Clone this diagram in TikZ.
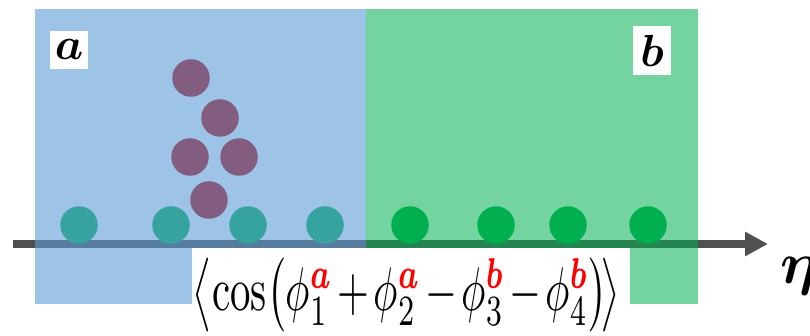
\documentclass[tikz,border=0pt]{standalone}
\usepackage{amsmath,amssymb,bm}
\usepackage{graphicx}
\usepackage{tikz}
\usetikzlibrary{arrows.meta}
\definecolor{regionA}{HTML}{5B9BD5}
\definecolor{regionB}{HTML}{00B050}
\definecolor{dotgreen}{HTML}{00B050}
\definecolor{dotred}{HTML}{C00000}
\definecolor{axisgray}{HTML}{505050}
\tikzset{
  axis/.style={-{Triangle[length=23pt,width=23pt]}, line width=7.5pt, draw=axisgray},
  region/.style={draw=none},
  particle/.style={circle, minimum size=37.5pt, inner sep=0pt, draw=none},
  tag/.style={fill=white, minimum width=38pt, inner sep=0pt},
  blank/.style={fill=white, anchor=north west, minimum width=438pt,
    minimum height=98pt, inner sep=0pt}
}
\newcommand{\sublabel}[1]{\textcolor{red}{\bm{#1}}}

\begin{document}
\begin{tikzpicture}[x=1pt,y=-1pt]
  \useasboundingbox (0,0) rectangle (810,336);

  % pseudorapidity axis
  \coordinate (axL) at (13,244);
  \coordinate (axR) at (768,244);
  \draw[axis] (axL) -- (axR);

  % particles in the two subevents
  \foreach \x [count=\i] in {79,171,248,325,410,496,568,648}
    \node[particle, fill=dotgreen] (p\i) at (\x,225) {};
  \node[particle, fill=dotred] (q1) at (191,78) {};
  \node[particle, fill=dotred] (q2) at (220,118) {};
  \node[particle, fill=dotred] (q3) at (190,157) {};
  \node[particle, fill=dotred] (q4) at (239,157) {};
  \node[particle, fill=dotred] (q5) at (209,200) {};

  % subevent windows
  \fill[regionA, region, fill opacity=0.6] (35,9.5) rectangle (366,304);
  \fill[regionB, region, fill opacity=0.55] (366,9.5) rectangle (698,304);

  \node[tag, minimum height=38pt] (tagA) at (69,50) {\scalebox{4.5}{$\bm{a}$}};
  \node[tag, minimum height=49pt] (tagB) at (652,50.5) {\scalebox{4.5}{$\bm{b}$}};

  \node[blank] (box) at (192,248) {};
  \node[inner sep=0pt] (corr) at (406.5,295)
    {\resizebox*{427pt}{74pt}{$\medmuskip=2mu
      \left\langle\cos\!\left(\phi_1^{\sublabel{a}}
      +\phi_2^{\sublabel{a}}-\phi_3^{\sublabel{b}}
      -\phi_4^{\sublabel{b}}\right)\!\right\rangle$}};

  \node[inner sep=0pt] (eta) at (799,276.5) {\scalebox{5.9}{$\bm{\eta}$}};
\end{tikzpicture}
\end{document}
